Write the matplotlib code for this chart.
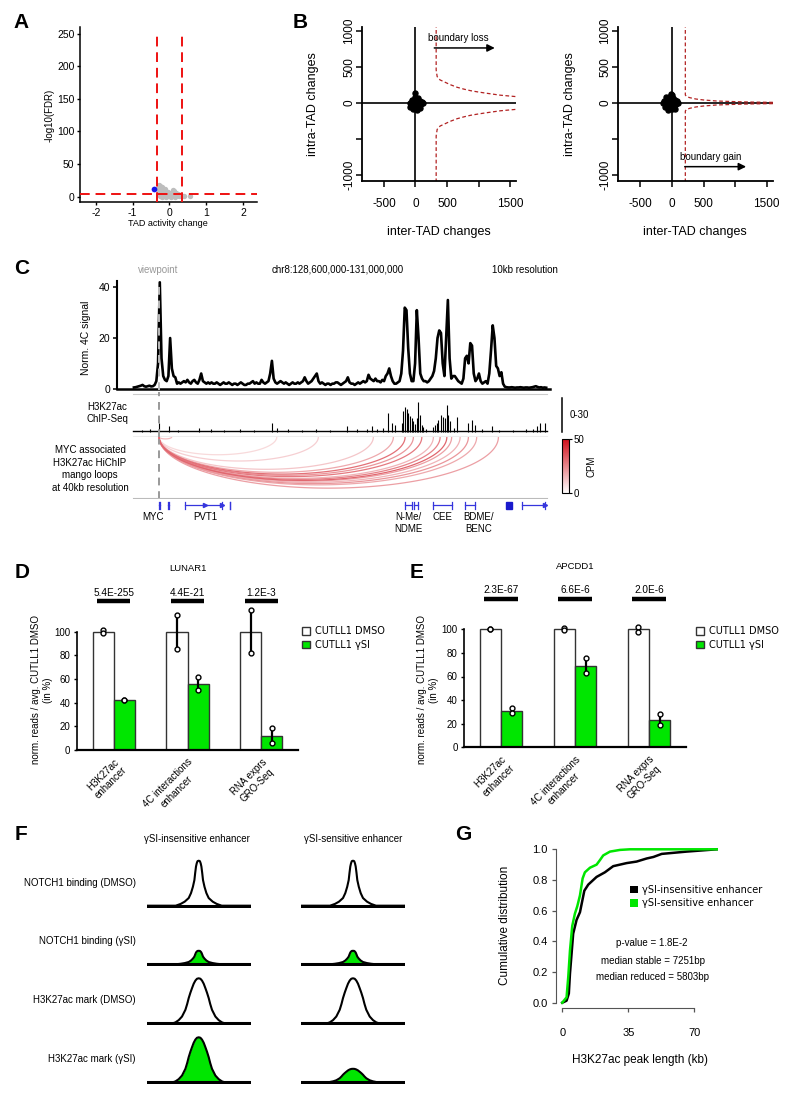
import numpy as np
import matplotlib
matplotlib.use('Agg')
import matplotlib.pyplot as plt
import matplotlib.transforms as mtransforms
from matplotlib.colors import LinearSegmentedColormap, Normalize
from matplotlib.cm import ScalarMappable
from matplotlib.patches import Patch, Rectangle
from matplotlib.transforms import blended_transform_factory

plt.rcParams['font.family'] = ['Liberation Sans', 'DejaVu Sans']
plt.rcParams['axes.unicode_minus'] = False

W, H = 800, 1097
GREEN = '#00e600'
RED = '#ee1111'
GENE_BLUE = '#3535dd'

# ---------------- A: TAD activity volcano ----------------
a_grey_x = [-0.30, -0.28, -0.27, -0.25, -0.24, -0.22, -0.21, -0.19, -0.18, -0.16, -0.15, -0.13,
            -0.12, -0.10, -0.08, -0.06, -0.05, -0.03, -0.01, 0.01, 0.03, 0.05, 0.07, 0.09, 0.10,
            0.12, 0.14, 0.16, 0.18, 0.20, 0.22, 0.25, 0.28, 0.31, 0.35, 0.40, 0.56, -0.29, -0.26,
            -0.20, -0.14, -0.09, -0.02, 0.04, 0.11, 0.15]
a_grey_y = [14, 18, 8, 16, 3, 12, 6, 15, 2, 10, 7, 4, 12, 1, 6, 3, 8, 2, 5, 1, 3, 6, 4, 8, 11,
            9, 5, 3, 6, 2, 4, 1, 3, 1, 1, 0.5, 0.5, 5, 1, 0, 1, 0, 1, 0, 2, 0]
a_blue_x = [-0.42]
a_blue_y = [12]
a_fc_cut = 0.33
a_fdr_cut = 4

# ---------------- B: inter/intra TAD changes ----------------
b_loss_x = [-95, -70, -60, -45, -30, -20, -10, 0, 5, 15, 25, 35, 50, 65, 80, 100, 120, -80, -40,
            -15, 10, 40, 70, -55, 30, 0]
b_loss_y = [5, -30, 25, -50, 40, -10, 60, -70, 20, -40, 50, 0, -60, 30, -20, 10, -5, -60, -80,
            85, -90, 70, -75, 45, -95, 135]
b_gain_x = [-140, -120, -100, -85, -70, -55, -40, -25, -10, 0, 15, 30, 45, 60, 75, 90, -110, -60,
            -20, 20, 50, -90, -35, 10, -20, 0]
b_gain_y = [0, 30, -40, 60, -70, 20, 80, -30, 50, -90, 10, -50, 40, -20, 30, -5, -60, -95, 95,
            75, -80, 90, -10, -40, 125, 115]
b_loss_thr_x = [328, 328, 344, 390, 450, 550, 661, 770, 873, 1000, 1138, 1350, 1603]
b_loss_thr_y = [1100, 458, 366, 320, 296, 255, 218, 192, 171, 152, 134, 108, 88]
b_gain_thr_x = [212, 212, 230, 281, 380, 500, 700, 1022, 1300, 1600]
b_gain_thr_y = [1100, 111, 90, 74, 55, 42, 28, 18, 12, 9]

# ---------------- C: 4C / ChIP / HiChIP ----------------
c_start, c_end, c_res = 128.6, 131.0, 0.01
c_viewpoint = 128.751
c_4c = [0.5, 0.6, 0.8, 1.0, 1.2, 1.5, 1.0, 0.8, 1.0, 1.2, 0.9, 1.0, 1.5,
        3.0, 10.0, 42.0, 12.0, 5.0, 3.5, 3.0, 5.0, 20.0, 8.0, 5.0, 4.5, 2.0,
        2.5, 2.0, 2.5, 3.0, 2.5, 3.5, 2.5, 2.0, 3.0, 3.5, 2.5, 2.0,
        3.5, 6.0, 3.0,
        2.5, 2.0, 2.5, 2.0, 2.5, 2.0, 2.0, 2.5, 2.0, 1.5, 2.0, 2.5, 2.0, 2.0, 2.5, 2.0, 1.5, 2.0,
        2.0, 1.5, 2.0, 2.5, 2.0, 1.5, 1.5, 2.0, 2.0, 2.5, 3.0, 2.0, 2.5, 2.0, 2.0, 3.5, 2.5, 2.0, 2.5,
        3.0, 6.0, 11.0, 4.0,
        2.5, 2.0, 2.5, 3.0, 2.5, 2.0, 2.5, 2.0, 1.5, 2.0, 2.5, 2.0, 2.0, 2.5, 2.0, 2.5, 3.0,
        4.5, 3.0, 2.0, 2.5, 3.0, 4.0, 5.0, 6.0, 3.0,
        2.0, 2.5, 2.0, 1.5, 2.0, 2.0, 1.5, 2.0, 2.0, 2.5, 2.5, 2.0, 1.5, 2.0, 2.5, 3.0, 4.5, 2.5,
        2.0, 2.0, 1.5, 2.0, 2.5, 2.0, 2.5, 3.0, 2.5,
        3.0, 5.5, 4.0, 3.5, 3.0, 4.0, 3.0, 3.0, 2.5, 3.5, 3.0, 5.0, 6.0, 8.0, 5.0, 3.0, 2.0,
        2.0, 2.5, 3.0, 6.0, 15.0, 32.0, 31.0, 16.0, 6.0, 3.0, 3.0, 10.0, 31.0, 20.0, 6.0, 4.0,
        3.0, 3.0, 2.5, 3.0, 4.0, 5.0, 7.0, 12.0, 20.0, 23.0, 22.0, 10.0, 5.0, 20.0, 35.0, 12.0,
        4.0, 5.0, 5.0, 4.0, 3.0, 2.5, 2.0, 4.0, 12.0, 13.0, 10.0, 18.0, 17.0, 6.0, 3.0, 4.0,
        6.0, 3.0, 2.0, 2.5, 3.0, 2.0, 6.0, 15.0, 25.0, 20.0, 9.0, 8.0, 5.0, 6.5, 2.0,
        0.8, 0.6, 0.5, 0.5, 0.6, 0.5, 0.4, 0.5, 0.5, 0.6, 0.5, 0.4, 0.5, 0.5, 0.4, 0.5, 0.6, 0.8,
        1.0, 0.7, 0.5, 0.6, 0.4, 0.5, 0.4]

c_chip_pos = [128.751, 128.807, 128.984, 129.404, 129.433, 129.839, 129.955, 129.984, 130.013,
              130.080, 130.100, 130.119, 130.158, 130.167, 130.177, 130.187, 130.196, 130.206,
              130.216, 130.225, 130.235, 130.245, 130.250, 130.264, 130.274, 130.283, 130.341,
              130.351, 130.361, 130.370, 130.384, 130.399, 130.409, 130.419, 130.428, 130.438,
              130.477, 130.544, 130.563, 130.583, 130.683, 130.940, 130.959, 130.988,
              128.65, 128.70, 128.86, 129.05, 129.13, 129.22, 129.30, 129.50, 129.58, 129.66,
              129.74, 129.90, 130.05, 130.30, 130.46, 130.62, 130.72, 130.80, 130.88, 130.92]
c_chip_val = [7.4, 5.3, 3.0, 7.4, 3.0, 5.3, 2.4, 4.5, 2.4, 16.3, 7.4, 6.0, 8.0, 18.0, 22.3, 20.0,
              16.3, 14.0, 12.0, 9.0, 7.0, 12.0, 26.7, 15.0, 6.0, 4.0, 4.0, 6.0, 8.0, 10.4, 14.8,
              13.4, 12.0, 23.7, 15.0, 9.0, 13.4, 7.4, 10.4, 6.0, 4.5, 4.5, 7.4, 7.4,
              1.5, 2.0, 1.5, 2.0, 1.5, 2.0, 1.5, 2.5, 1.5, 2.0, 1.5, 2.5, 3.0, 2.5, 3.0, 2.0,
              1.5, 1.5, 2.0, 2.5]

c_loop_end = [128.824, 129.433, 129.674, 129.993, 130.109, 130.177, 130.225, 130.274, 130.341,
              130.380, 130.419, 130.447, 130.496, 130.544, 130.592, 130.718]
c_loop_cpm = [14, 8, 10, 12, 18, 30, 22, 28, 16, 26, 32, 20, 16, 22, 18, 20]

c_gene_start = [128.748, 128.805, 128.901, 129.162, 130.177, 130.229, 130.339, 130.525, 130.853]
c_gene_end = [128.754, 128.809, 129.114, 129.164, 130.216, 130.252, 130.447, 130.583, 130.988]
c_gene_arrows = [129.02, 129.114, 130.988]
c_gene_block = (130.762, 130.795)
c_gene_names = ['MYC', 'PVT1', 'N-Me/\nNDME', 'CEE', 'BDME/\nBENC']
c_gene_name_x = [128.718, 129.017, 130.196, 130.395, 130.602]

# ---------------- D / E: bar charts ----------------
de_groups = ['H3K27ac\nenhancer', '4C interactions\nenhancer', 'RNA exprs\nGRO-Seq']
d_dmso = [100, 100, 100]
d_gsi = [42, 56, 12]
d_dmso_reps = [[101.5, 98.5], [114, 85.5], [118, 82]]
d_gsi_reps = [[42, 42], [61.5, 51], [18.5, 6]]
d_pvals = ['5.4E-255', '4.4E-21', '1.2E-3']
e_dmso = [100, 100, 100]
e_gsi = [30.8, 68.9, 23.1]
e_dmso_reps = [[100, 100], [100.7, 99.3], [102, 98]]
e_gsi_reps = [[33, 28.8], [75.4, 63.2], [28, 18.9]]
e_pvals = ['2.3E-67', '6.6E-6', '2.0E-6']

# ---------------- F: schematic peaks ----------------
f_cols = ['\u03b3SI-insensitive enhancer', '\u03b3SI-sensitive enhancer']
f_rows = ['NOTCH1 binding (DMSO)', 'NOTCH1 binding (\u03b3SI)', 'H3K27ac mark (DMSO)',
          'H3K27ac mark (\u03b3SI)']
f_heights = [[1.0, 1.0], [0.3, 0.3], [1.0, 1.0], [1.0, 0.3]]
f_filled = [False, True, False, True]
f_kind = ['notch', 'notch', 'k27', 'k27']
notch_x = [-52, -23, -18, -14, -10, -7.7, -5.8, -4.3, -3.5, -2.7, -2, -1.2, 0,
           1.2, 2, 2.7, 3.5, 4.3, 5.8, 7.7, 10, 14, 18, 23, 52]
notch_y = [0, 0, 0.04, 0.09, 0.17, 0.28, 0.42, 0.57, 0.73, 0.87, 0.94, 0.99, 1.0,
           0.99, 0.94, 0.87, 0.73, 0.57, 0.42, 0.28, 0.17, 0.09, 0.04, 0, 0]
k27_x = [-52, -26, -23.3, -20, -16.7, -13.3, -11.5, -10, -8.3, -6.7, -5, -3.3, -1.7, 0,
         1.7, 3.3, 5, 6.7, 8.3, 10, 11.5, 13.3, 16.7, 20, 23.3, 26, 52]
k27_y = [0, 0, 0.02, 0.07, 0.15, 0.3, 0.43, 0.56, 0.68, 0.78, 0.88, 0.95, 0.99, 1.0,
         0.99, 0.95, 0.88, 0.78, 0.68, 0.56, 0.43, 0.3, 0.15, 0.07, 0.02, 0, 0]

# ---------------- G: cumulative distribution ----------------
g_ins_x = [0, 2.3, 3.5, 4.1, 4.95, 5.8, 7.6, 9.4, 11.7, 13.8, 18.2, 22.6, 27, 34.1, 39.4, 44.7,
           48.3, 52.7, 65.9, 81.9]
g_ins_y = [0, 0.013, 0.06, 0.19, 0.32, 0.45, 0.54, 0.59, 0.73, 0.77, 0.82, 0.85, 0.89, 0.91,
           0.92, 0.94, 0.95, 0.97, 0.985, 1.0]
g_sen_x = [0, 2.3, 3.2, 4.1, 5.3, 6.7, 8, 9.4, 10.8, 12, 14.7, 18.2, 20, 21.7, 25.3, 30.6, 35.9,
           81.9]
g_sen_y = [0, 0.035, 0.17, 0.34, 0.5, 0.58, 0.63, 0.7, 0.81, 0.85, 0.88, 0.9, 0.93, 0.96, 0.985,
           0.996, 1.0, 1.0]


fig = plt.figure(figsize=(W / 100, H / 100), dpi=100)


def box(l, t, r, b):
    return [l / W, 1 - b / H, (r - l) / W, (b - t) / H]


def ftext(x, y, s, **kw):
    fig.text(x / W, 1 - y / H, s, **kw)


def label_at(ax, b, which, x, y):
    l, t, r, bt = b
    axis = ax.xaxis if which == 'x' else ax.yaxis
    axis.set_label_coords((x - l) / (r - l), (bt - y) / (bt - t))
    axis.label.set_va('center')
    axis.label.set_ha('center')


for letter, lx, ly in [('A', 21, 23), ('B', 300, 22), ('C', 22, 268), ('D', 22, 572),
                       ('E', 417, 572), ('F', 21, 835), ('G', 463, 834)]:
    ftext(lx, ly, letter, fontsize=15, fontweight='bold', ha='center', va='center')

# ---- A
bA = (80, 27, 257, 202)
ax = fig.add_axes(box(*bA))
ax.scatter(a_grey_x, a_grey_y, s=15, color='#bdbdbd', lw=0, zorder=2)
ax.scatter(a_blue_x, a_blue_y, s=17, color='#1515ee', lw=0, zorder=3)
for v in (-a_fc_cut, a_fc_cut):
    ax.plot([v, v], [-8, 252], color=RED, lw=1.4, dashes=(5, 3), zorder=4)
ax.axhline(a_fdr_cut, color=RED, lw=1.4, dashes=(5, 3), zorder=4)
ax.set_xlim(-2.43, 2.38)
ax.set_ylim(-8, 260)
ax.set_xticks([-2, -1, 0, 1, 2])
ax.set_yticks(range(0, 251, 50))
for s in ('top', 'right'):
    ax.spines[s].set_visible(False)
ax.spines['left'].set_linewidth(1.1)
ax.spines['bottom'].set_linewidth(1.1)
ax.tick_params(labelsize=7.5, length=2.5, width=1, pad=1.5)
ax.set_xlabel('TAD activity change', fontsize=6.5)
ax.set_ylabel('-log10(FDR)', fontsize=7)
label_at(ax, bA, 'x', 168, 224)
label_at(ax, bA, 'y', 50, 115)


# ---- B
def b_panel(b, px, py, tx, ty, arrow_y, arrow_x, text_xy, text):
    ax = fig.add_axes(box(*b))
    ax.axhline(0, color='black', lw=1.2, zorder=1)
    ax.axvline(0, color='black', lw=1.2, zorder=1)
    ax.plot(px, py, 'o', ms=3.6, color='black', zorder=3)
    ax.plot(tx, ty, color='#b22222', lw=0.9, dashes=(3, 2))
    ax.plot(tx, [-v for v in ty], color='#b22222', lw=0.9, dashes=(3, 2))
    ax.annotate('', xy=(arrow_x[1], arrow_y), xytext=(arrow_x[0], arrow_y),
                arrowprops=dict(arrowstyle='-|>', lw=1.1, color='black', mutation_scale=11))
    ax.text(text_xy[0], text_xy[1], text, fontsize=7, ha='left', va='center')
    ax.set_xlim(-849, 1595)
    ax.set_ylim(-1083, 1055)
    ax.set_xticks([-500, 0, 500, 1000, 1500])
    ax.set_xticklabels(['-500', '0', '500', '', '1500'])
    ax.set_yticks([-1000, -500, 0, 500, 1000])
    ax.set_yticklabels(['-1000', '', '0', '500', '1000'], rotation=90, va='center')
    for s in ('top', 'right'):
        ax.spines[s].set_visible(False)
    ax.spines['left'].set_linewidth(1.3)
    ax.spines['bottom'].set_linewidth(1.3)
    ax.tick_params(labelsize=8.5, length=4, width=1.1)
    ax.tick_params(axis='x', pad=8.5)
    ax.tick_params(axis='y', pad=1)
    ax.set_xlabel('inter-TAD changes', fontsize=9)
    ax.set_ylabel('intra-TAD changes', fontsize=9)
    return ax


bB1 = (362, 27, 516, 181)
ax = b_panel(bB1, b_loss_x, b_loss_y, b_loss_thr_x, b_loss_thr_y, 764, (254, 1302),
             (206, 903), 'boundary loss')
label_at(ax, bB1, 'x', 439, 232)
label_at(ax, bB1, 'y', 313, 104)
bB2 = (618.3, 27, 772.7, 181)
ax = b_panel(bB2, b_gain_x, b_gain_y, b_gain_thr_x, b_gain_thr_y, -884, (159, 1218),
             (133, -754), 'boundary gain')
label_at(ax, bB2, 'x', 695, 232)
label_at(ax, bB2, 'y', 570, 104)

# ---- C
c_xlim = (128.507, 131.017)
ftext(158, 270, 'viewpoint', fontsize=7, color='#999999', ha='center', va='center')
ftext(338, 270, 'chr8:128,600,000-131,000,000', fontsize=7, ha='center', va='center')
ftext(525, 270, '10kb resolution', fontsize=7, ha='center', va='center')

bC1 = (117, 281, 550, 390)
ax = fig.add_axes(box(*bC1))
c_x = c_start + (np.arange(len(c_4c)) + 0.5) * c_res
ax.plot(c_x, c_4c, color='black', lw=1.9, solid_joinstyle='round', zorder=2)
ax.axvline(c_viewpoint, color='#bbbbbb', lw=1.4, dashes=(4, 3), zorder=3)
ax.set_xlim(*c_xlim)
ax.set_ylim(-0.5, 42.5)
ax.set_xticks([])
ax.set_yticks([0, 20, 40])
for s in ('top', 'right'):
    ax.spines[s].set_visible(False)
ax.spines['bottom'].set_position(('data', 0))
ax.spines['left'].set_bounds(0, 42.5)
ax.spines['left'].set_linewidth(1.5)
ax.spines['bottom'].set_linewidth(1.8)
ax.tick_params(labelsize=7.5, length=3, width=1.1, pad=2)
ax.set_ylabel('Norm. 4C signal', fontsize=7.5)
label_at(ax, bC1, 'y', 86, 338)

x0f = (133 - 117) / 433
x1f = (547 - 117) / 433
bC2 = (117, 392, 550, 437)
ax = fig.add_axes(box(*bC2))
ax.vlines(c_chip_pos, 0, c_chip_val, color='black', lw=0.8)
ax.axhline(0.3, xmin=x0f, xmax=x1f, color='black', lw=1.0)
ax.axhline(33.3, xmin=x0f, xmax=x1f, color='#cccccc', lw=0.8)
ax.axhline(-4.3, xmin=x0f, xmax=x1f, color='#eeeeee', lw=0.8)
ax.axvline(c_viewpoint, color='#999999', lw=1.4, dashes=(4, 3))
ax.set_xlim(*c_xlim)
ax.set_ylim(-4.9, 35.3)
ax.axis('off')
tr = blended_transform_factory(ax.transAxes, ax.transData)
ax.plot([1.027, 1.027], [0, 30], color='black', lw=1.1, transform=tr, clip_on=False)
ax.text(1.046, 15, '0-30', fontsize=7, ha='left', va='center', transform=tr)
ftext(107, 413, 'H3K27ac\nChIP-Seq', fontsize=7, ha='center', va='center', linespacing=1.3)

loop_cmap = LinearSegmentedColormap.from_list('loops', ['white', '#d0101c'])
bC3 = (117, 437, 550, 499)
ax = fig.add_axes(box(*bC3))
t = np.linspace(0, np.pi, 120)
for end, cpm in sorted(zip(c_loop_end, c_loop_cpm), key=lambda p: p[1]):
    mid = (c_viewpoint + end) / 2
    half = (end - c_viewpoint) / 2
    ax.plot(mid + half * np.cos(t), -26 * (end - c_viewpoint) * np.sin(t),
            color=loop_cmap(cpm / 50), lw=0.9)
ax.axvline(c_viewpoint, color='#999999', lw=1.4, dashes=(4, 3), ymax=0.97)
ax.axhline(-60.7, xmin=x0f, xmax=x1f, color='#bbbbbb', lw=0.8)
ax.set_xlim(*c_xlim)
ax.set_ylim(-62, 0)
ax.axis('off')
ftext(90, 469, 'MYC associated\nH3K27ac HiChIP\nmango loops\nat 40kb resolution', fontsize=7,
      ha='center', va='center', linespacing=1.3)

cax = fig.add_axes(box(561.7, 439.3, 569.3, 493.3))
cb = fig.colorbar(ScalarMappable(Normalize(0, 50), loop_cmap), cax=cax, ticks=[0, 50])
cb.ax.tick_params(labelsize=7, length=2, pad=1)
cb.set_label('CPM', fontsize=7, labelpad=2)
cb.outline.set_linewidth(0.8)

bC4 = (117, 499, 550, 540)
ax = fig.add_axes(box(*bC4))
for s, e in zip(c_gene_start, c_gene_end):
    ax.plot([s, e], [6, 6], color=GENE_BLUE, lw=0.9)
    ax.plot([s, s], [2.5, 9.5], color=GENE_BLUE, lw=0.9)
    ax.plot([e, e], [2.5, 9.5], color=GENE_BLUE, lw=0.9)
ax.plot(c_gene_arrows, [6] * len(c_gene_arrows), '>', color=GENE_BLUE, ms=3)
ax.add_patch(Rectangle((c_gene_block[0], 2.5), c_gene_block[1] - c_gene_block[0], 7,
                       color='#1a1acc'))
for name, gx in zip(c_gene_names, c_gene_name_x):
    ax.text(gx, 12.5, name, fontsize=7, ha='center', va='top', linespacing=1.3)
ax.set_xlim(*c_xlim)
ax.set_ylim(41, 0)
ax.axis('off')


# ---- D / E
def bar_panel(b, title, dmso, gsi, dmso_reps, gsi_reps, pvals, ylab_x, leg_x):
    ax = fig.add_axes(box(*b))
    x = np.arange(1, len(dmso) + 1)
    w = 0.285
    ax.bar(x - w / 2, dmso, w, color='white', edgecolor='#333333', lw=1, zorder=2)
    ax.bar(x + w / 2, gsi, w, color=GREEN, edgecolor='#333333', lw=1, zorder=2)
    for i in range(len(x)):
        for xx, reps in ((x[i] - w / 2, dmso_reps[i]), (x[i] + w / 2, gsi_reps[i])):
            ax.plot([xx, xx], [min(reps), max(reps)], color='black', lw=1.6, zorder=3)
            ax.plot([xx] * len(reps), reps, 'o', ms=3.5, mfc='white', mec='black', mew=1,
                    zorder=4)
        ax.plot([x[i] - 0.227, x[i] + 0.227], [126, 126], color='black', lw=3.2,
                solid_capstyle='butt')
        ax.text(x[i], 133, pvals[i], ha='center', va='center', fontsize=7.2)
    ax.text(2, 153.5, title, ha='center', va='center', fontsize=6.8)
    ax.set_xlim(0.5, 3.5)
    ax.set_ylim(0, 160)
    ax.set_yticks(range(0, 101, 20))
    ax.set_xticks(x)
    ax.set_xticklabels(de_groups, rotation=45, ha='right', va='top', rotation_mode='anchor',
                       fontsize=7, multialignment='center')
    off = mtransforms.ScaledTranslation(-14 / 100, 0, fig.dpi_scale_trans)
    for lab in ax.get_xticklabels():
        lab.set_transform(lab.get_transform() + off)
    for s in ('top', 'right'):
        ax.spines[s].set_visible(False)
    ax.spines['left'].set_bounds(0, 100)
    ax.spines['left'].set_linewidth(1.2)
    ax.spines['bottom'].set_linewidth(1.6)
    ax.tick_params(axis='y', labelsize=7, length=2.5, width=1, pad=2)
    ax.tick_params(axis='x', length=0, pad=5)
    ax.set_ylabel('norm. reads / avg. CUTLL1 DMSO\n(in %)', fontsize=7, linespacing=1.2)
    label_at(ax, b, 'y', ylab_x, 690)
    ax.legend([Patch(facecolor='white', edgecolor='#333333'),
               Patch(facecolor=GREEN, edgecolor='#333333')],
              ['CUTLL1 DMSO', 'CUTLL1 \u03b3SI'], loc='upper left',
              bbox_to_anchor=(leg_x / W, 1 - 626.5 / H), bbox_transform=fig.transFigure,
              frameon=False, handlelength=0.8, handleheight=0.8, handletextpad=0.5,
              labelspacing=0.35, borderpad=0, borderaxespad=0,
              prop={'family': 'DejaVu Sans', 'size': 7})


bar_panel((76.7, 560.7, 298.3, 750), 'LUNAR1', d_dmso, d_gsi, d_dmso_reps, d_gsi_reps, d_pvals,
          42, 302)
bar_panel((464, 558.5, 686, 747.3), 'APCDD1', e_dmso, e_gsi, e_dmso_reps, e_gsi_reps, e_pvals,
          428, 696)

# ---- F
f_col_left = [146.7, 301]
f_row_base = [905.7, 964.3, 1023.3, 1082.3]
f_col_center = [197, 353]
for c, name in enumerate(f_cols):
    ftext(f_col_center[c], 839.3, name, fontsize=7, ha='center', va='center')
for r, name in enumerate(f_rows):
    ftext(136, f_row_base[r] - 23, name, fontsize=7, ha='right', va='center')
    for c in range(2):
        l = f_col_left[c]
        base = f_row_base[r]
        ax = fig.add_axes(box(l, base - 48, l + 104, base + 2))
        sx, sy = (notch_x, notch_y) if f_kind[r] == 'notch' else (k27_x, k27_y)
        y = np.array(sy) * f_heights[r][c]
        if f_filled[r]:
            ax.fill_between(sx, 0, y, color=GREEN, lw=0)
        ax.plot(sx, y, color='black', lw=1.5, solid_joinstyle='round')
        ax.axhline(0, color='black', lw=2.2)
        ax.set_xlim(-52, 52)
        ax.set_ylim(-2 / 45, 48 / 45)
        ax.axis('off')

# ---- G
bG = (556, 845, 718, 1008.3)
ax = fig.add_axes(box(*bG))
ax.plot(g_ins_x, g_ins_y, color='black', lw=1.8, label='\u03b3SI-insensitive enhancer')
ax.plot(g_sen_x, g_sen_y, color=GREEN, lw=1.8, label='\u03b3SI-sensitive enhancer')
ax.set_xlim(-3.3, 82.5)
ax.set_ylim(-0.0365, 1.028)
ax.set_xticks([0, 35, 70])
ax.set_yticks([0, 0.2, 0.4, 0.6, 0.8, 1.0])
ax.set_yticklabels(['0.0', '0.2', '0.4', '0.6', '0.8', '1.0'])
for s in ('top', 'right'):
    ax.spines[s].set_visible(False)
ax.spines['left'].set_bounds(0, 1)
ax.spines['bottom'].set_bounds(0, 70)
for s in ('left', 'bottom'):
    ax.spines[s].set_color('#555555')
ax.tick_params(labelsize=8, length=3, width=0.9, color='#555555', pad=3)
ax.tick_params(axis='x', pad=11)
ax.set_xlabel('H3K27ac peak length (kb)', fontsize=8.5)
ax.set_ylabel('Cumulative distribution', fontsize=8.5)
label_at(ax, bG, 'x', 640, 1060)
label_at(ax, bG, 'y', 505, 925)
ax.legend([Patch(facecolor='black'), Patch(facecolor=GREEN)],
          ['\u03b3SI-insensitive enhancer', '\u03b3SI-sensitive enhancer'], loc='upper left',
          bbox_to_anchor=(630 / W, 1 - 885 / H), bbox_transform=fig.transFigure, frameon=False,
          handlelength=0.8, handleheight=0.8, handletextpad=0.4, labelspacing=0.35,
          borderpad=0, borderaxespad=0, prop={'family': 'DejaVu Sans', 'size': 7})
ax.text(47.6, 0.387, 'p-value = 1.8E-2', fontsize=7, ha='center', va='center')
ax.text(47.9, 0.274, 'median stable = 7251bp', fontsize=7, ha='center', va='center')
ax.text(47.9, 0.169, 'median reduced = 5803bp', fontsize=7, ha='center', va='center')

fig.savefig('out.png', dpi=100)
